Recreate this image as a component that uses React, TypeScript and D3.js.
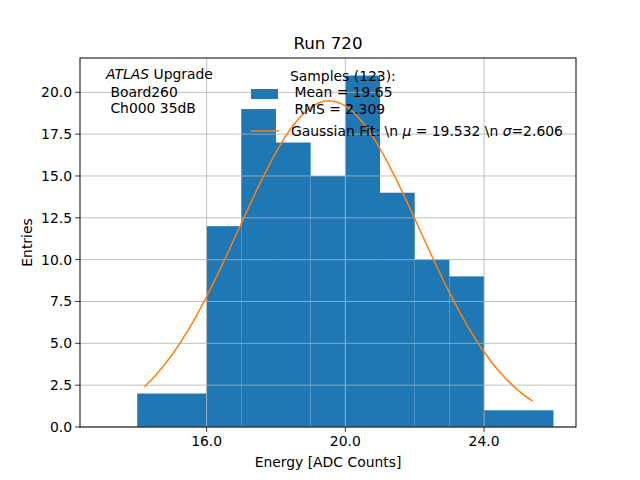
import * as d3 from 'd3'

// histogram bins (left edge, right edge, entries)
const binEdges = [14, 16, 17, 18, 19, 20, 21, 22, 23, 24, 26];
const binCounts = [2, 12, 19, 17, 15, 21, 14, 10, 9, 1];

// gaussian fit curve
const fitX = [14.2, 14.5, 15, 15.5, 16, 16.5, 17, 17.5, 18, 18.5, 19, 19.5, 20, 20.5, 21, 21.5, 22, 22.5, 23, 23.5, 24, 24.5, 25, 25.4];
const fitY = [2.4, 3.02, 4.3, 5.89, 7.79, 9.91, 12.16, 14.39, 16.41, 18.03, 19.1, 19.5, 19.19, 18.2, 16.64, 14.66, 12.45, 10.19, 8.04, 6.12, 4.48, 3.17, 2.16, 1.55];

const xTicks = [16, 20, 24];
const yTicks = [0, 2.5, 5, 7.5, 10, 12.5, 15, 17.5, 20];

function App() {
  const width = 640;
  const height = 480;
  const margin = { left: 80, right: 64, top: 58, bottom: 53 };
  const x0 = margin.left;
  const x1 = width - margin.right;
  const y0 = height - margin.bottom;
  const y1 = margin.top;
  const font = 'DejaVu Sans, sans-serif';
  const fs = 13.9;

  const x = d3.scaleLinear().domain([12.35, 26.65]).range([x0, x1]);
  const y = d3.scaleLinear().domain([0, 22.05]).range([y0, y1]);

  const line = d3.line<number>()
    .x((d, i) => x(fitX[i]))
    .y(d => y(d))
    .curve(d3.curveMonotoneX);

  return (
    <div style={{ position: 'absolute', left: 0, top: 0 }}>
      <svg width={width} height={height} style={{ display: 'block', background: 'white' }}>
        {binCounts.map((c, i) => (
          <rect key={i}
            x={x(binEdges[i])}
            y={y(c)}
            width={x(binEdges[i + 1]) - x(binEdges[i])}
            height={y(0) - y(c)}
            fill="#1f77b4" />
        ))}
        {/* grid */}
        {xTicks.map(t => (
          <line key={'gx' + t} x1={x(t)} x2={x(t)} y1={y0} y2={y1} stroke="#b0b0b0" strokeWidth={0.8} />
        ))}
        {yTicks.map(t => (
          <line key={'gy' + t} x1={x0} x2={x1} y1={y(t)} y2={y(t)} stroke="#b0b0b0" strokeWidth={0.8} />
        ))}
        <path d={line(fitY) || ''} fill="none" stroke="#ff7f0e" strokeWidth={1.5} />
        <rect x={x0} y={y1} width={x1 - x0} height={y0 - y1} fill="none" stroke="black" strokeWidth={1} />
        {/* ticks */}
        {xTicks.map(t => (
          <g key={'tx' + t}>
            <line x1={x(t)} x2={x(t)} y1={y0} y2={y0 + 4.9} stroke="black" strokeWidth={0.8} />
            <text x={x(t)} y={y0 + 19} textAnchor="middle" fontFamily={font} fontSize={fs}>{t.toFixed(1)}</text>
          </g>
        ))}
        {yTicks.map(t => (
          <g key={'ty' + t}>
            <line x1={x0} x2={x0 - 4.9} y1={y(t)} y2={y(t)} stroke="black" strokeWidth={0.8} />
            <text x={x0 - 8} y={y(t)} dy="0.35em" textAnchor="end" fontFamily={font} fontSize={fs}>{t.toFixed(1)}</text>
          </g>
        ))}
        <text x={(x0 + x1) / 2} y={467} textAnchor="middle" fontFamily={font} fontSize={fs}>Energy [ADC Counts]</text>
        <text transform={`translate(32,${(y0 + y1) / 2}) rotate(-90)`} textAnchor="middle" fontFamily={font} fontSize={fs}>Entries</text>
        <text x={(x0 + x1) / 2} y={49} textAnchor="middle" fontFamily={font} fontSize={16.7}>Run 720</text>

        {/* annotation */}
        <text x={106} y={79} fontFamily={font} fontSize={fs}>
          <tspan fontStyle="italic">ATLAS</tspan> Upgrade
        </text>
        <text x={106} y={97} fontFamily={font} fontSize={fs} xmlSpace="preserve"> Board260</text>
        <text x={106} y={113} fontFamily={font} fontSize={fs} xmlSpace="preserve"> Ch000 35dB</text>

        {/* legend */}
        <rect x={251} y={89} width={27} height={10} fill="#1f77b4" />
        <text x={290} y={81} fontFamily={font} fontSize={fs}>Samples (123):</text>
        <text x={290} y={97} fontFamily={font} fontSize={fs} xmlSpace="preserve"> Mean = 19.65</text>
        <text x={290} y={114} fontFamily={font} fontSize={fs} xmlSpace="preserve"> RMS = 2.309</text>
        <line x1={251} x2={279} y1={131} y2={131} stroke="#ff7f0e" strokeWidth={1.5} />
        <text x={291} y={136} fontFamily={font} fontSize={fs}>
          Gaussian Fit: \n <tspan fontStyle="italic">μ</tspan> = 19.532 \n <tspan fontStyle="italic">σ</tspan>=2.606
        </text>
      </svg>
    </div>
  );
}

export default App;
